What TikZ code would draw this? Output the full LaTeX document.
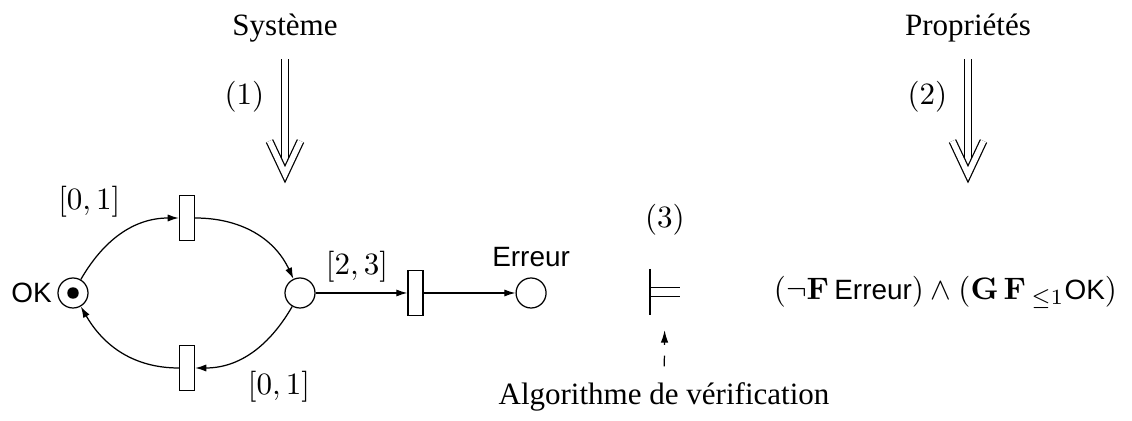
\documentclass[tikz,border=0pt]{standalone}
\usepackage{amsmath,amssymb}
\usepackage[no-math]{fontspec}
\setmainfont{Liberation Serif}
\setsansfont{Liberation Sans}[Scale=0.9]
\usetikzlibrary{arrows.meta,positioning}
\tikzstyle{place} = [draw, circle, minimum size=0.34cm, inner sep=0pt]
\tikzstyle{trans} = [draw, rectangle, minimum width=0.17cm, minimum height=0.51cm, inner sep=0pt]
\tikzstyle{arc} = [-{Latex[length=3.6pt,width=2.3pt]}]
\tikzstyle{refine} = [double, double distance=1.8pt, shorten <=0.7mm, shorten >=3pt]
\tikzstyle{refinehead} = [double, double distance=1.8pt, line join=miter]

\begin{document}
\begin{tikzpicture}[x=1.133cm, y=1.133cm]
    \useasboundingbox (0,0) rectangle (11.32,4.21);
    % We start with the system and its properties
    \node (sys) at (2.85,3.93) {Système};
    \node (prop) at (9.68,3.93) {Propriétés};
    \coordinate (sysin) at (2.85,2.47);
    \coordinate (propin) at (9.68,2.47);
    \draw [refine] (sys) -- node[pos=0.36, left=1.1mm] {$(1)$} (sysin);
    \draw [refinehead] ([shift={(-0.155,0.33)}]sysin) -- (sysin) -- ([shift={(0.155,0.33)}]sysin);
    \draw [refine] (prop) -- node[pos=0.36, left=1.1mm] {$(2)$} (propin);
    \draw [refinehead] ([shift={(-0.155,0.33)}]propin) -- (propin) -- ([shift={(0.155,0.33)}]propin);
    % The timed Petri net
    \node [place, label={[label distance=-0.6mm]left:\textsf{OK}}] (ok) at (0.73,1.28) {};
    \fill (ok) circle (0.065cm);
    \node [trans] (t1) at (1.87,2.03) {};
    \node [trans] (t2) at (1.87,0.53) {};
    \node [place] (p2) at (3.00,1.28) {};
    \node [trans, right=1.04cm of p2] (t3) {};
    \node [place, right=1.04cm of t3, label={above:\textsf{Erreur}}] (err) {};
    % Arcs between places and transitions
    \draw [arc] (ok.60) to[out=60, in=180] node[pos=0.6, above left] {$[0,1]$} (t1.west);
    \draw [arc] (t1.east) to[out=0, in=115] (p2.115);
    \draw [arc] (p2.-120) to[out=-120, in=0] node[pos=0.65, below right] {$[0,1]$} (t2.east);
    \draw [arc] (t2.west) to[out=180, in=-60] (ok.-60);
    \draw [arc] (p2) -- node[pos=0.45, above] {$[2,3]$} (t3);
    \draw [arc] (t3) -- (err);
    % Satisfaction relation and the formula
    \node [minimum width=0.32cm, minimum height=0.51cm, inner sep=0pt] (sat) at (6.65,1.29) {};
    \draw [line width=0.6pt] (sat.north west) -- (sat.south west);
    \draw ([yshift=0.05cm]sat.west) -- ([yshift=0.05cm]sat.east);
    \draw ([yshift=-0.05cm]sat.west) -- ([yshift=-0.05cm]sat.east);
    \node [above=2.6mm of sat] (three) {$(3)$};
    \node [anchor=east] (ltl) at (11.28,1.285)
        {$(\neg\mathbf{F}\,\textsf{Erreur})\wedge(\mathbf{G}\,\mathbf{F}\,{}_{\leq 1}\textsf{OK})$};
    \node (algo) at (6.64,0.24) {Algorithme de vérification};
    \draw [dash pattern=on 3.5pt off 3.5pt, -{Latex[length=4pt,width=2.4pt]}, shorten <=0.6mm, shorten >=1.7mm] (algo) -- (sat);
\end{tikzpicture}
\end{document}
